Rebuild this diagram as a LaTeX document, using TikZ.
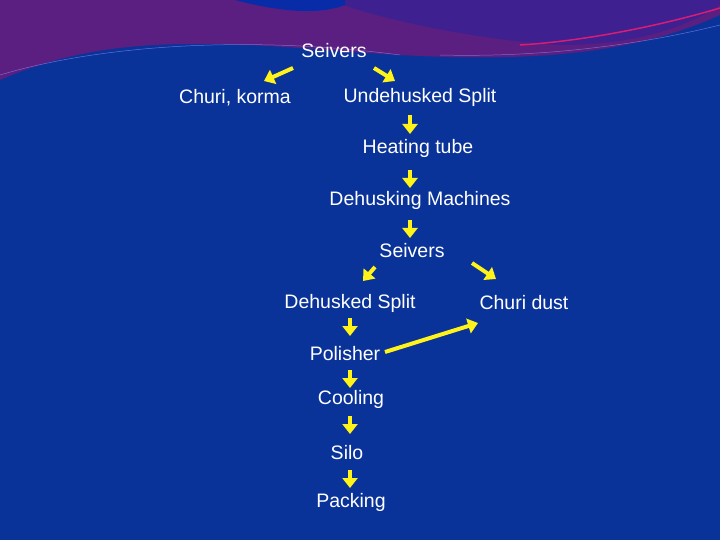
\documentclass[tikz,border=0pt]{standalone}
\usepackage{fontspec}
\setmainfont{Liberation Sans}
\usetikzlibrary{arrows.meta}
\begin{document}
\begin{tikzpicture}[x=1pt,y=-1pt,
  lbl/.style={text=white,font=\fontsize{19.5}{22}\selectfont,inner sep=0pt},
  yarr/.style={draw=yellow!90!white,line width=4pt,-{Triangle[length=10pt,width=15pt]}}]
\definecolor{bg}{HTML}{0A3399}
\definecolor{purp}{HTML}{5A1F80}
\definecolor{purp2}{HTML}{3E2090}
\useasboundingbox (0,0) rectangle (720,540);
\fill[bg] (0,0) rectangle (720,540);
\fill[purp] (0,0) -- (0,80) .. controls (80,45) and (160,38) .. (300,48) .. controls (450,60) and (600,70) .. (720,15) -- (720,0) -- cycle;
\fill[purp2] (330,0) .. controls (380,20) and (480,40) .. (560,45) .. controls (640,45) and (690,25) .. (720,5) -- (720,0) -- cycle;
\fill[bg!85!blue] (235,0) .. controls (280,12) and (320,15) .. (345,5) -- (345,0) -- cycle;
\draw[magenta!60!purple,line width=1.5pt] (520,45) .. controls (600,40) and (680,20) .. (720,8);
\draw[white!60!blue,line width=0.5pt,opacity=0.6] (0,75) .. controls (100,45) and (250,35) .. (400,55);
\draw[white!60!blue,line width=0.5pt,opacity=0.6] (440,55) .. controls (560,58) and (660,40) .. (720,25);
\node[lbl] (s1) at (334,51) {Seivers};
\node[lbl] (ck) at (235,98) {Churi, korma};
\node[lbl] (us) at (420,97) {Undehusked Split};
\node[lbl] (ht) at (418,148) {Heating tube};
\node[lbl] (dm) at (420,200) {Dehusking Machines};
\node[lbl] (s2) at (412,251) {Seivers};
\node[lbl] (ds) at (350,303) {Dehusked Split};
\node[lbl] (cd) at (524,303) {Churi dust};
\node[lbl] (po) at (345,354) {Polisher};
\node[lbl] (co) at (351,399) {Cooling};
\node[lbl] (si) at (347,453) {Silo};
\node[lbl] (pa) at (351,502) {Packing};
\foreach \n/\ax/\ay/\bx/\by in {1/293/68/264/81, 2/374/68/395/81, 3/410/115/410/134, 4/410/170/410/188,
  5/410/220/410/238, 6/375/267/363/281, 7/472/263/496/279, 8/350/318/350/336,
  9/385/352/478/323, 10/350/370/350/388, 11/350/416/350/434, 12/350/470/350/488}{
  \coordinate (a\n) at (\ax,\ay); \coordinate (b\n) at (\bx,\by);
  \draw[yarr] (a\n) -- (b\n);}
\end{tikzpicture}
\end{document}
